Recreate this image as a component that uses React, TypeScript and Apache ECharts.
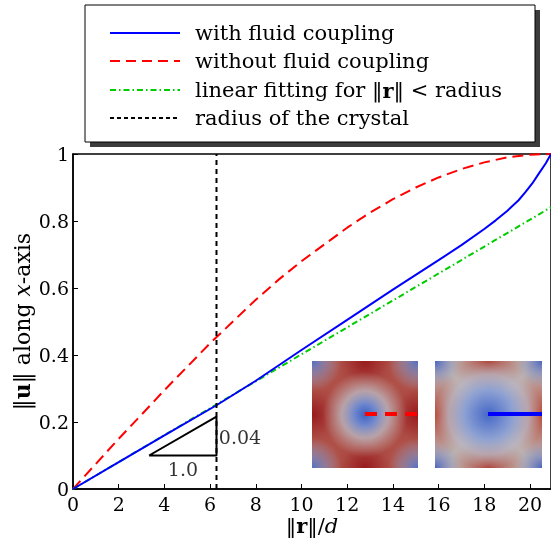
import React, { useEffect, useRef } from "react";
import * as echarts from "echarts";

const X_MAX = 20.92;
const RADIUS = 6.28;

const blueX = [0, 2, 4, 6.28, 8, 10, 12, 14, 16, 17, 18, 18.5, 19, 19.5, 19.8, 20.1, 20.4, 20.7, 20.92];
const blueY = [0, 0.08, 0.16, 0.25, 0.323, 0.415, 0.505, 0.595, 0.683, 0.728, 0.776, 0.802, 0.83, 0.862, 0.886, 0.912, 0.943, 0.973, 1.0];

const redX = [0, 1, 2, 3, 4, 5, 6, 7, 8, 9, 10, 11, 12, 13, 14, 15, 16, 17, 18, 19, 20, 20.92];
const redY = [0, 0.075, 0.15, 0.222, 0.295, 0.365, 0.435, 0.5, 0.565, 0.625, 0.68, 0.73, 0.78, 0.825, 0.865, 0.9, 0.93, 0.955, 0.975, 0.99, 0.998, 1.0];

const greenX = [0, 20.92];
const greenY = [0, 0.841];

const triX = [3.33, 6.28, 6.28, 3.33];
const triY = [0.1, 0.1, 0.216, 0.1];

const xTicks = [0, 2, 4, 6, 8, 10, 12, 14, 16, 18, 20];
const legendNames = [
  "with fluid coupling",
  "without fluid coupling",
  "linear fitting for ‖{b|r}‖ < radius",
  "radius of the crystal",
];

const SERIF = "'DejaVu Serif', serif";

function zip(xs: number[], ys: number[]) {
  return xs.map((x, i) => [x, ys[i]]);
}

function inset(x: number, y: number, w: number, h: number, kind: "left" | "right") {
  const rg = (cx: number, cy: number, r: number, stops: [number, string][]) =>
    new echarts.graphic.RadialGradient(cx, cy, r, stops.map(([offset, color]) => ({ offset, color })));
  const layers: any[] = [];
  const add = (fill: any) =>
    layers.push({ type: "rect", shape: { x, y, width: w, height: h }, style: { fill } });
  if (kind === "left") {
    add("#c48672");
    const dr = "rgba(150,20,25,0.95)";
    const tr = "rgba(150,20,25,0)";
    add(rg(0.5, 0, 0.5, [[0, dr], [1, tr]]));
    add(rg(0.5, 1, 0.5, [[0, dr], [1, tr]]));
    add(rg(0, 0.5, 0.5, [[0, dr], [1, tr]]));
    add(rg(1, 0.5, 0.5, [[0, dr], [1, tr]]));
    const bl = "rgba(80,110,195,1)";
    const bt = "rgba(150,160,200,0)";
    add(rg(0, 0, 0.28, [[0, bl], [1, bt]]));
    add(rg(1, 0, 0.28, [[0, bl], [1, bt]]));
    add(rg(0, 1, 0.28, [[0, bl], [1, bt]]));
    add(rg(1, 1, 0.28, [[0, bl], [1, bt]]));
    add(
      rg(0.5, 0.5, 0.4, [
        [0, "rgba(60,95,195,1)"],
        [0.25, "rgba(110,135,205,1)"],
        [0.55, "rgba(185,180,190,0.8)"],
        [1, "rgba(200,170,165,0)"],
      ])
    );
  } else {
    add("#bcb2b0");
    const rr = "rgba(185,70,55,0.95)";
    const rt = "rgba(185,70,55,0)";
    add(rg(0, 0.5, 0.4, [[0, rr], [1, rt]]));
    add(rg(1, 0.5, 0.4, [[0, rr], [1, rt]]));
    add(rg(0.5, 0, 0.35, [[0, "rgba(170,50,40,0.85)"], [1, rt]]));
    add(rg(0.5, 1, 0.35, [[0, "rgba(170,50,40,0.85)"], [1, rt]]));
    const bl = "rgba(75,100,190,1)";
    const bt = "rgba(150,160,200,0)";
    add(rg(0, 0, 0.25, [[0, bl], [1, bt]]));
    add(rg(1, 0, 0.25, [[0, bl], [1, bt]]));
    add(rg(0, 1, 0.25, [[0, bl], [1, bt]]));
    add(rg(1, 1, 0.25, [[0, bl], [1, bt]]));
    add(
      rg(0.5, 0.5, 0.5, [
        [0, "rgba(70,105,200,1)"],
        [0.45, "rgba(140,160,210,1)"],
        [0.75, "rgba(185,185,200,0.7)"],
        [1, "rgba(190,180,180,0)"],
      ])
    );
  }
  return layers;
}

export default function App() {
  const ref = useRef<HTMLDivElement>(null);
  useEffect(() => {
    if (!ref.current) return;
    const chart = echarts.init(ref.current, undefined, { renderer: "svg" });

    const legendColors = ["#0000ff", "#ff0000", "#00cc00", "#000000"];
    const legendDash: any[] = ["solid", [10, 6], [6, 3, 1.5, 3], [4, 3]];
    const legendRowsY = [33, 61, 90, 118];
    const legendGraphics: any[] = [
      { type: "rect", shape: { x: 90, y: 10, width: 450, height: 137 }, style: { fill: "#3c3c3c" }, z: 100 },
      { type: "rect", shape: { x: 85, y: 5, width: 450, height: 137 }, style: { fill: "#fff", stroke: "#000", lineWidth: 1 }, z: 101 },
    ];
    legendNames.forEach((name, i) => {
      legendGraphics.push({
        type: "line",
        shape: { x1: 110, y1: legendRowsY[i], x2: 180, y2: legendRowsY[i] },
        style: { stroke: legendColors[i], lineWidth: 2, lineDash: legendDash[i] === "solid" ? null : legendDash[i] },
        z: 102,
      });
      legendGraphics.push({
        type: "text",
        x: 195,
        y: legendRowsY[i],
        style: {
          text: name,
          fontFamily: SERIF,
          fontSize: 21,
          fill: "#000",
          verticalAlign: "middle",
          rich: { b: { fontWeight: "bold", fontFamily: SERIF, fontSize: 21 } },
        },
        z: 102,
      });
    });

    const insetGraphics: any[] = [
      ...inset(312, 361, 106, 107, "left"),
      ...inset(435, 361, 107, 107, "right"),
      {
        type: "line",
        shape: { x1: 365, y1: 414, x2: 418, y2: 414 },
        style: { stroke: "#ff0000", lineWidth: 4, lineDash: [12, 8] },
      },
      {
        type: "line",
        shape: { x1: 488, y1: 414, x2: 542, y2: 414 },
        style: { stroke: "#0000ff", lineWidth: 4 },
      },
    ];

    const nameStyle = (size: number) => ({
      fontFamily: SERIF,
      fontSize: size,
      lineHeight: size,
      color: "#000",
      rich: {
        b: { fontWeight: "bold", fontFamily: SERIF, fontSize: size, lineHeight: size },
        i: { fontStyle: "italic", fontFamily: SERIF, fontSize: size, lineHeight: size },
      },
    });

    chart.setOption({
      animation: false,
      grid: {
        left: 73,
        right: 0,
        top: 154,
        bottom: 49,
        show: true,
        borderColor: "#000",
        borderWidth: 1.5,
        containLabel: false,
        outerBoundsMode: "none",
      },
      xAxis: {
        type: "value",
        min: 0,
        max: X_MAX,
        interval: 2,
        name: "‖{b|r}‖/{i|d}",
        nameLocation: "middle",
        nameGap: 26,
        nameMoveOverlap: false,
        nameTextStyle: nameStyle(21),
        axisLine: { show: true, lineStyle: { color: "#000", width: 1.5 } },
        axisTick: { show: true, inside: true, length: 5, lineStyle: { color: "#000" } },
        axisLabel: {
          showMaxLabel: false,
          margin: 5,
          fontFamily: SERIF,
          fontSize: 19,
          color: "#000",
          formatter: (v: number) => (xTicks.includes(v) ? String(v) : ""),
        },
        splitLine: { show: false },
      },
      yAxis: {
        type: "value",
        min: 0,
        max: 1,
        interval: 0.2,
        name: "‖{b|u}‖ along {i|x}-axis",
        nameLocation: "middle",
        nameGap: 40,
        nameMoveOverlap: false,
        nameTextStyle: nameStyle(22),
        axisLine: { show: true, lineStyle: { color: "#000", width: 1.5 } },
        axisTick: { show: true, inside: true, length: 5, lineStyle: { color: "#000" } },
        axisLabel: {
          margin: 4,
          fontFamily: SERIF,
          fontSize: 19,
          color: "#000",
          formatter: (v: number) => String(+v.toFixed(1)),
        },
        splitLine: { show: false },
      },
      series: [
        {
          name: "without fluid coupling",
          type: "line",
          data: zip(redX, redY),
          showSymbol: false,
          lineStyle: { color: "#ff0000", width: 2, type: [11, 6] },
          z: 3,
        },
        {
          name: "linear fitting",
          type: "line",
          data: zip(greenX, greenY),
          showSymbol: false,
          lineStyle: { color: "#00cc00", width: 2, type: [6, 3, 1.5, 3] },
          z: 3,
        },
        {
          name: "with fluid coupling",
          type: "line",
          data: zip(blueX, blueY),
          showSymbol: false,
          lineStyle: { color: "#0000ff", width: 2 },
          z: 4,
        },
        {
          name: "radius of the crystal",
          type: "line",
          data: [
            [RADIUS, 0],
            [RADIUS, 1],
          ],
          showSymbol: false,
          lineStyle: { color: "#000", width: 2, type: [5, 4] },
          z: 5,
        },
        {
          name: "slope triangle",
          type: "line",
          data: zip(triX, triY),
          showSymbol: false,
          lineStyle: { color: "#000", width: 2 },
          z: 5,
        },
        {
          name: "triangle labels",
          type: "scatter",
          symbolSize: 0,
          data: [
            { value: [4.81, 0.061], name: "1.0" },
            { value: [7.31, 0.154], name: "0.04" },
          ],
          label: {
            show: true,
            position: "inside",
            formatter: (p: any) => p.name,
            fontFamily: SERIF,
            fontSize: 19,
            color: "#000",
          },
          z: 6,
        },
      ],
      graphic: [...insetGraphics, ...legendGraphics],
    });
    return () => chart.dispose();
  }, []);
  return <div ref={ref} style={{ position: "fixed", left: 0, top: 0, width: 551, height: 538 }} />;
}
